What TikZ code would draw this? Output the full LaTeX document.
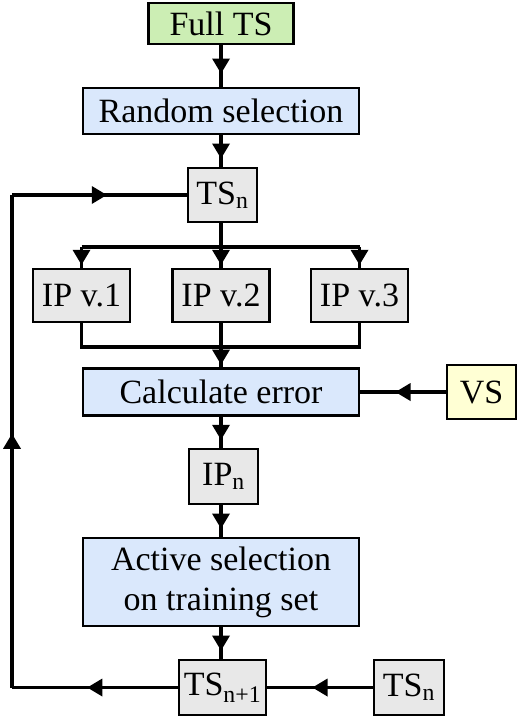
\documentclass[tikz,border=0pt]{standalone}
\usepackage{fontspec}
\setmainfont{Liberation Serif}
\usepackage{xcolor}
\definecolor{fullts}{HTML}{CCEEB4}
\definecolor{stepblue}{HTML}{DAE8FC}
\definecolor{setgray}{HTML}{E8E8E8}
\definecolor{vsyellow}{HTML}{FFFFD4}
\usetikzlibrary{decorations.markings}

\tikzset{
    box/.style={draw, line width=2.7pt, inner sep=0pt, font=\fontsize{34}{40}\selectfont},
    midarrow/.style={line width=3.2pt, postaction={decorate},
        decoration={markings, mark=at position 0.5 with {\fill (7.5pt, 0pt) -- (-7.5pt, 9pt) -- (-7.5pt, -9pt) -- cycle;}}},
}

\begin{document}
\begin{tikzpicture}[x=1pt, y=-1pt]
            \useasboundingbox (0, 0) rectangle (520, 718);

            \node[box, fill=fullts, minimum width=145pt, minimum height=41pt] (full) at (221, 23.5) {Full TS};
            \node[box, fill=stepblue, minimum width=276pt, minimum height=46pt] (rand) at (221, 111) {Random selection};
            \node[box, fill=setgray, minimum width=69pt, minimum height=54pt] (tsn) at (222.5, 195) {TS\textsubscript{n}};

            \node[box, fill=setgray, minimum width=97pt, minimum height=53pt] (ip1) at (81.5, 295.5) {IP v.1};
            \node[box, fill=setgray, minimum width=97pt, minimum height=53pt] (ip2) at (221, 295.5) {IP v.2};
            \node[box, fill=setgray, minimum width=97pt, minimum height=53pt] (ip3) at (359.5, 295.5) {IP v.3};

            \node[box, fill=stepblue, minimum width=276pt, minimum height=47pt] (calc) at (221, 392) {Calculate error};
            \node[box, fill=vsyellow, minimum width=69pt, minimum height=54pt] (vs) at (481.5, 392) {VS};
            \node[box, fill=setgray, minimum width=69pt, minimum height=55pt] (ipn) at (223.5, 476.5) {IP\textsubscript{n}};
            \node[box, fill=stepblue, minimum width=276pt, minimum height=88pt, align=center] (act) at (221, 582) {Active selection\\on training set};
            \node[box, fill=setgray, minimum width=87pt, minimum height=55pt] (tsnext) at (222.5, 687.5) {TS\textsubscript{n+1}};
            \node[box, fill=setgray, minimum width=70pt, minimum height=55pt] (tsold) at (409, 687.5) {TS\textsubscript{n}};

            \coordinate (split) at (221, 247);
            \coordinate (merge) at (221, 347);
            \coordinate (loopbl) at (12, 687.5);
            \coordinate (looptl) at (12, 195);

            \draw[midarrow] (full) -- (rand);
            \draw[midarrow] (rand) -- (rand |- tsn.north);
            \draw[line width=3.2pt] (rand |- tsn.south) -- (split);
            \draw[line width=3.2pt] (split -| ip1) -- (split -| ip3);
            \draw[midarrow] (split -| ip1) -- (ip1);
            \draw[midarrow] (split -| ip2) -- (ip2);
            \draw[midarrow] (split -| ip3) -- (ip3);

            \draw[line width=3.2pt] (ip1) |- (merge -| ip3) -- (ip3);
            \draw[line width=3.2pt] (ip2) -- (merge);
            \draw[midarrow] (merge) -- (calc);
            \draw[midarrow] (vs) -- (calc);

            \draw[midarrow] (calc) -- (calc |- ipn.north);
            \draw[midarrow] (calc |- ipn.south) -- (act);
            \draw[midarrow] (act) -- (act |- tsnext.north);
            \draw[midarrow] (tsold) -- (tsnext);

            \draw[midarrow] (tsnext) -- (loopbl);
            \draw[midarrow] (loopbl) -- (looptl);
            \draw[midarrow] (looptl) -- (tsn);
        \end{tikzpicture}
\end{document}
